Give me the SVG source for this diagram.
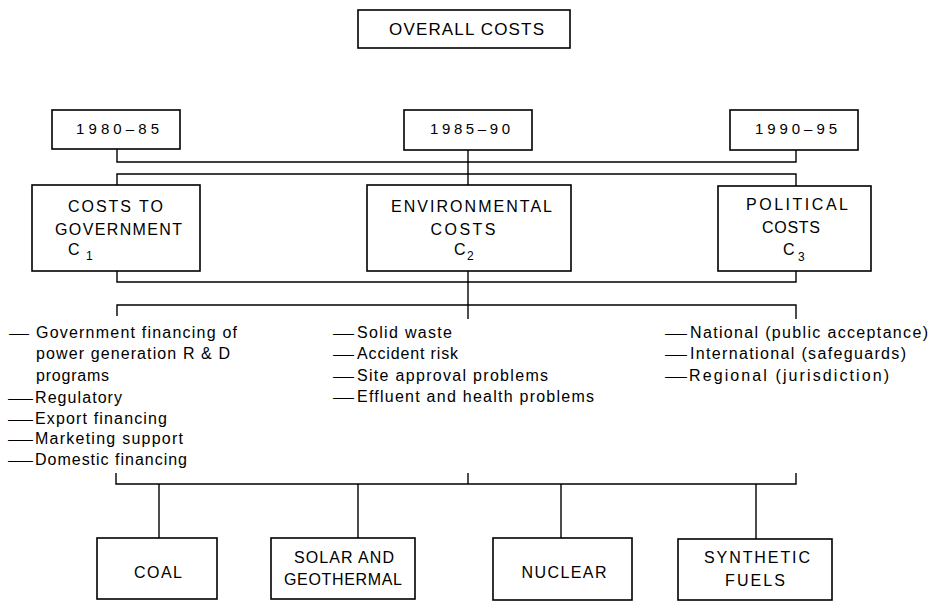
<svg xmlns="http://www.w3.org/2000/svg" width="934" height="601" viewBox="0 0 934 601">
<style>
.box{fill:#fff;stroke:#000;stroke-width:1.6}
.ln{fill:none;stroke:#000;stroke-width:1.4}
.t{font-family:"Liberation Sans",Arial,sans-serif;font-size:16px;fill:#000;text-anchor:middle}
.yr{font-family:"Liberation Sans",Arial,sans-serif;font-size:15px;fill:#000;text-anchor:middle}
.c{font-family:"Liberation Sans",Arial,sans-serif;font-size:16px;fill:#000}
.sub{font-size:12px}
.l{font-family:"Liberation Sans",Arial,sans-serif;font-size:16px;fill:#000}
.d{font-family:"Liberation Sans",Arial,sans-serif;font-size:15px;fill:#000}
</style>
<rect width="934" height="601" fill="#fff"/>
<g id="connectors">
<path class="ln" d="M117,149V162H796V150"/>
<path class="ln" d="M468,150V185"/>
<path class="ln" d="M117,185V174H796V186"/>
<path class="ln" d="M117,271V282H796V271"/>
<path class="ln" d="M468,271V319"/>
<path class="ln" d="M117,316V305H796V319"/>
<path class="ln" d="M116,473V484H796V473"/>
<path class="ln" d="M468,473V484"/>
<path class="ln" d="M159,484V538M358,484V538M561,484V538M756,484V539"/>
</g>
<g id="overall"><rect class="box" x="358" y="10" width="212" height="38"/><text class="t" x="466.5" y="35" style="font-size:17px" textLength="155" lengthAdjust="spacing">OVERALL COSTS</text></g>
<g id="y1980"><rect class="box" x="52" y="110" width="128" height="39"/><text class="yr" x="117.5" y="134" textLength="83" lengthAdjust="spacing">1980–85</text></g>
<g id="y1985"><rect class="box" x="404" y="110" width="128" height="40"/><text class="yr" x="470" y="134" textLength="80" lengthAdjust="spacing">1985–90</text></g>
<g id="y1990"><rect class="box" x="730" y="110" width="128" height="40"/><text class="yr" x="796" y="134" textLength="82" lengthAdjust="spacing">1990–95</text></g>
<g id="c1"><rect class="box" x="32" y="185" width="168" height="86"/>
<text class="t" x="115.5" y="212" textLength="95" lengthAdjust="spacing">COSTS TO</text>
<text class="t" x="118.5" y="235" textLength="127" lengthAdjust="spacing">GOVERNMENT</text>
<text class="c" x="68" y="255">C<tspan class="sub" x="86" y="260">1</tspan></text></g>
<g id="c2"><rect class="box" x="367" y="185" width="204" height="86"/>
<text class="t" x="471.5" y="212" textLength="161" lengthAdjust="spacing">ENVIRONMENTAL</text>
<text class="t" x="463" y="235" textLength="65" lengthAdjust="spacing">COSTS</text>
<text class="c" x="454" y="255">C<tspan class="sub" x="467" y="260">2</tspan></text></g>
<g id="c3"><rect class="box" x="718" y="186" width="153" height="85"/>
<text class="t" x="797" y="210" textLength="102" lengthAdjust="spacing">POLITICAL</text>
<text class="t" x="791" y="233" textLength="58" lengthAdjust="spacing">COSTS</text>
<text class="c" x="783" y="255">C<tspan class="sub" x="798" y="261">3</tspan></text></g>
<g id="list1">
<text class="d" x="9" y="338" textLength="20" lengthAdjust="spacingAndGlyphs">—</text>
<text class="l" x="36" y="338" textLength="201" lengthAdjust="spacing">Government financing of</text>
<text class="l" x="36" y="359" textLength="194" lengthAdjust="spacing">power generation R &amp; D</text>
<text class="l" x="36" y="381" textLength="73" lengthAdjust="spacing">programs</text>
<text class="d" x="8" y="403" textLength="25" lengthAdjust="spacingAndGlyphs">—</text>
<text class="l" x="35" y="403" textLength="87" lengthAdjust="spacing">Regulatory</text>
<text class="d" x="8" y="424" textLength="25" lengthAdjust="spacingAndGlyphs">—</text>
<text class="l" x="35" y="424" textLength="132" lengthAdjust="spacing">Export financing</text>
<text class="d" x="8" y="444" textLength="25" lengthAdjust="spacingAndGlyphs">—</text>
<text class="l" x="35" y="444" textLength="148" lengthAdjust="spacing">Marketing support</text>
<text class="d" x="8" y="465" textLength="25" lengthAdjust="spacingAndGlyphs">—</text>
<text class="l" x="35" y="465" textLength="152" lengthAdjust="spacing">Domestic financing</text>
</g>
<g id="list2">
<text class="d" x="333" y="338" textLength="21" lengthAdjust="spacingAndGlyphs">—</text>
<text class="l" x="357" y="338" textLength="95" lengthAdjust="spacing">Solid waste</text>
<text class="d" x="333" y="359" textLength="21" lengthAdjust="spacingAndGlyphs">—</text>
<text class="l" x="357" y="359" textLength="101" lengthAdjust="spacing">Accident risk</text>
<text class="d" x="333" y="381" textLength="21" lengthAdjust="spacingAndGlyphs">—</text>
<text class="l" x="357" y="381" textLength="191" lengthAdjust="spacing">Site approval problems</text>
<text class="d" x="333" y="402" textLength="21" lengthAdjust="spacingAndGlyphs">—</text>
<text class="l" x="357" y="402" textLength="237" lengthAdjust="spacing">Effluent and health problems</text>
</g>
<g id="list3">
<text class="d" x="665" y="338" textLength="22" lengthAdjust="spacingAndGlyphs">—</text>
<text class="l" x="690" y="338" textLength="238" lengthAdjust="spacing">National (public acceptance)</text>
<text class="d" x="665" y="359" textLength="22" lengthAdjust="spacingAndGlyphs">—</text>
<text class="l" x="690" y="359" textLength="216" lengthAdjust="spacing">International (safeguards)</text>
<text class="d" x="665" y="381" textLength="22" lengthAdjust="spacingAndGlyphs">—</text>
<text class="l" x="689" y="381" textLength="200" lengthAdjust="spacing">Regional (jurisdiction)</text>
</g>
<g id="coal"><rect class="box" x="97" y="538" width="120" height="61"/><text class="t" x="158" y="578" textLength="48" lengthAdjust="spacing">COAL</text></g>
<g id="solar"><rect class="box" x="271" y="538" width="144" height="61"/><text class="t" x="344" y="563" textLength="100" lengthAdjust="spacing">SOLAR AND</text><text class="t" x="343" y="585" textLength="118" lengthAdjust="spacing">GEOTHERMAL</text></g>
<g id="nuclear"><rect class="box" x="493" y="538" width="139" height="62"/><text class="t" x="564" y="578" textLength="85" lengthAdjust="spacing">NUCLEAR</text></g>
<g id="synthetic"><rect class="box" x="678" y="539" width="154" height="61"/><text class="t" x="757" y="563" textLength="106" lengthAdjust="spacing">SYNTHETIC</text><text class="t" x="755" y="586" textLength="60" lengthAdjust="spacing">FUELS</text></g>
</svg>
